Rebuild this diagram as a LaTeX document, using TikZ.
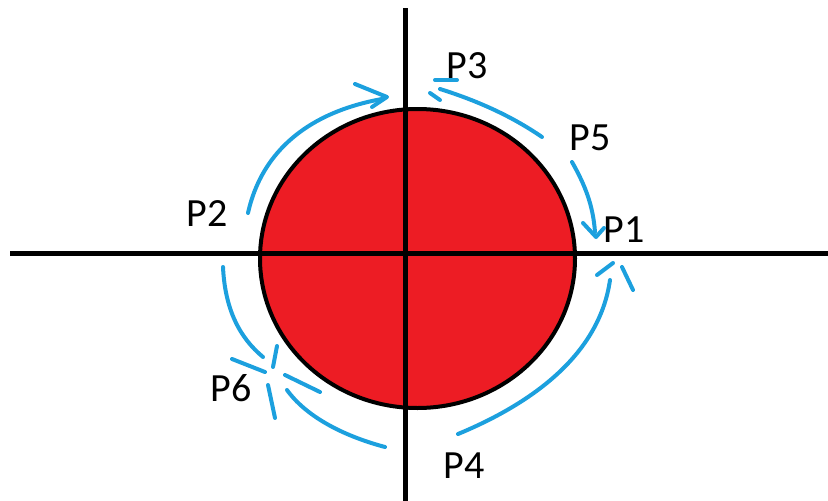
\documentclass[tikz,border=0pt]{standalone}
\usepackage{fontspec}
\setmainfont{Carlito}
\definecolor{penblue}{RGB}{28,160,222}
\definecolor{discred}{RGB}{237,28,36}
\tikzset{
  axisline/.style={line width=5pt, black},
  disc/.style={fill=discred, draw=black, line width=4pt},
  pen/.style={penblue, line width=4pt, line cap=round, line join=round},
  plabel/.style={font=\fontsize{40}{40}\selectfont, anchor=base, inner sep=0pt}
}
\begin{document}
\begin{tikzpicture}[x=1pt,y=-1pt]
\useasboundingbox (0,0) rectangle (828,501);
% disc
\draw[disc] (417.5,258.5) ellipse [x radius=157.5, y radius=149.5];
% axes
\coordinate (xl) at (10,253.5);
\coordinate (xr) at (828,253.5);
\coordinate (yt) at (405.5,8);
\coordinate (yb) at (405.5,501);
\draw[axisline] (xl) -- (xr);
\draw[axisline] (yt) -- (yb);
% labels
\node[plabel] (p3) at (467,78) {P3};
\node[plabel] (p5) at (590,150) {P5};
\node[plabel] (p1) at (624,242) {P1};
\node[plabel] (p2) at (207,226) {P2};
\node[plabel] (p6) at (231,401) {P6};
\node[plabel] (p4) at (464,478) {P4};
% P2 arrow
\draw[pen] (248,213) .. controls (262,150) and (310,112) .. (382,99);
\draw[pen] (355,84) -- (387,97) -- (372,107);
% P3 arrow
\draw[pen] (542,137) .. controls (510,115) and (475,100) .. (440,89);
\draw[pen] (435,80) -- (457,80);
\draw[pen] (430,93) -- (440,100);
% P5 arrow
\draw[pen] (572,162) .. controls (585,185) and (593,205) .. (595,232);
\draw[pen] (583,223) -- (596,237) -- (604,228);
% P4 arrow
\draw[pen] (458,434) .. controls (540,400) and (600,350) .. (610,280);
\draw[pen] (597,275) -- (613,263);
\draw[pen] (622,267) -- (633,290);
% P6 arrows
\draw[pen] (223,267) .. controls (225,310) and (240,338) .. (263,357);
\draw[pen] (232,359) -- (265,372);
\draw[pen] (277,346) -- (273,367);
\draw[pen] (385,447) .. controls (340,435) and (305,415) .. (287,390);
\draw[pen] (285,375) -- (320,392);
\draw[pen] (268,385) -- (275,418);
\end{tikzpicture}
\end{document}
